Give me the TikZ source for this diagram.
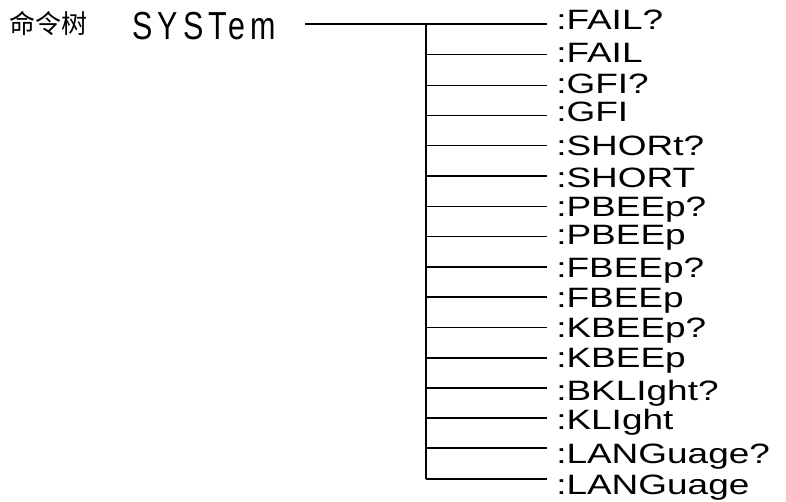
\documentclass[tikz,border=0pt]{standalone}
\usepackage{fontspec}
\setmainfont{Liberation Sans}
\newfontfamily\labfont[FakeStretch=1.32]{Liberation Sans}
\newfontfamily\sysfont[FakeStretch=0.78,LetterSpace=13]{Liberation Sans}
\newfontfamily\cjk{Noto Sans CJK SC}
\begin{document}
\begin{tikzpicture}[x=0.75pt,y=-0.75pt,
  conn/.style={line width=1.2pt,black},
  lab/.style={anchor=base west,inner sep=0pt,font=\labfont\fontsize{21pt}{23pt}\selectfont},
  title/.style={anchor=base west,inner sep=0pt,font=\sysfont\fontsize{29.3pt}{31pt}\selectfont},
  cjklab/.style={anchor=west,inner sep=0pt,font=\cjk\fontsize{19.5pt}{21pt}\selectfont}]
\useasboundingbox (0,0) rectangle (786,502);
\node[cjklab] (cmd) at (9,24) {命令树};
\node[title] (sys) at (132,39.5) {SYSTem};
\coordinate (start) at (305,24);
\foreach \i/\y/\b/\t in {0/24/29.5/{:FAIL?},1/54.5/63/{:FAIL},2/85.7/93.3/{:GFI?},3/115.7/122/{:GFI},4/145.7/156/{:SHORt?},5/176/188/{:SHORT},6/206.7/216.7/{:PBEEp?},7/236.7/245/{:PBEEp},8/267.3/278/{:FBEEp?},9/297/308/{:FBEEp},10/327.5/338/{:KBEEp?},11/358/368/{:KBEEp},12/388.3/401/{:BKLIght?},13/418.3/430/{:KLIght},14/448.3/464/{:LANGuage?},15/478.7/494/{:LANGuage}}{
  \coordinate (j\i) at (426,\y);
  \coordinate (e\i) at (547,\y);
  \node[lab] (l\i) at (556,\b) {\t};
}
\draw[conn] (start) -- (e0);
\draw[conn] (j0) -- (j15);
\foreach \i in {1,...,15}{
  \draw[conn] (j\i) -- (e\i);
}
\end{tikzpicture}
\end{document}
